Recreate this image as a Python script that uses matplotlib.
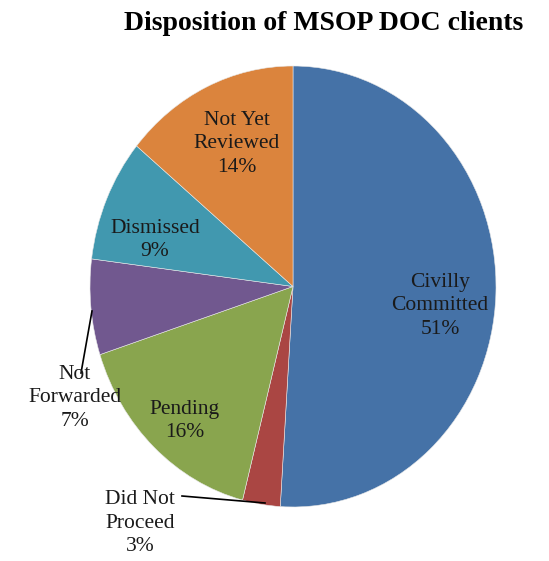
import matplotlib
matplotlib.use('Agg')
import matplotlib.pyplot as plt

labels = ['Civilly\nCommitted', 'Did Not\nProceed', 'Pending', 'Not\nForwarded',
          'Dismissed', 'Not Yet\nReviewed']
values = [51, 3, 16, 7, 9, 14]
colors = ['#4572A7', '#AA4643', '#89A54E', '#71588F', '#4198AF', '#DB843D']

plt.rcParams['font.family'] = ['Liberation Serif', 'DejaVu Serif']

W, H = 549, 561
fig = plt.figure(figsize=(W / 100, H / 100), dpi=100)
# pie is slightly taller than wide in the reference
cx, cy, rx, ry = 293, 286.5, 203, 220.5
ax = fig.add_axes([(cx - rx) / W, (H - cy - ry) / H, 2 * rx / W, 2 * ry / H])

wedges, _ = ax.pie(values, colors=colors, startangle=90, counterclock=False,
                   radius=1.0, wedgeprops=dict(linewidth=0.4, edgecolor='#e8e8e8'))
ax.set_xlim(-1, 1)
ax.set_ylim(-1, 1)
ax.set_aspect('auto')
ax.axis('off')


def px(x, y):
    return (x - cx) / rx, (cy - y) / ry


# label positions in pixels of the reference
pos = [(440, 306), (140, 523), (185, 421), (75, 398), (155, 240), (237, 144)]
for lab, v, (x, y) in zip(labels, values, pos):
    dx, dy = px(x, y)
    ax.text(dx, dy, f'{lab}\n{v}%', ha='center', va='center', fontsize=15.5,
            linespacing=1.3, color='#1a1a1a', clip_on=False)

# leader lines
for (x0, y0), (x1, y1) in [((81, 373), (92, 311)), ((182, 496), (265, 503))]:
    a, b = px(x0, y0)
    c, d = px(x1, y1)
    ax.plot([a, c], [b, d], color='black', lw=1.2, clip_on=False)

fig.text(324 / W, 1 - 23 / H, 'Disposition of MSOP DOC clients', ha='center',
         va='center', fontsize=20, fontweight='bold')

fig.savefig('out.png', dpi=100)
